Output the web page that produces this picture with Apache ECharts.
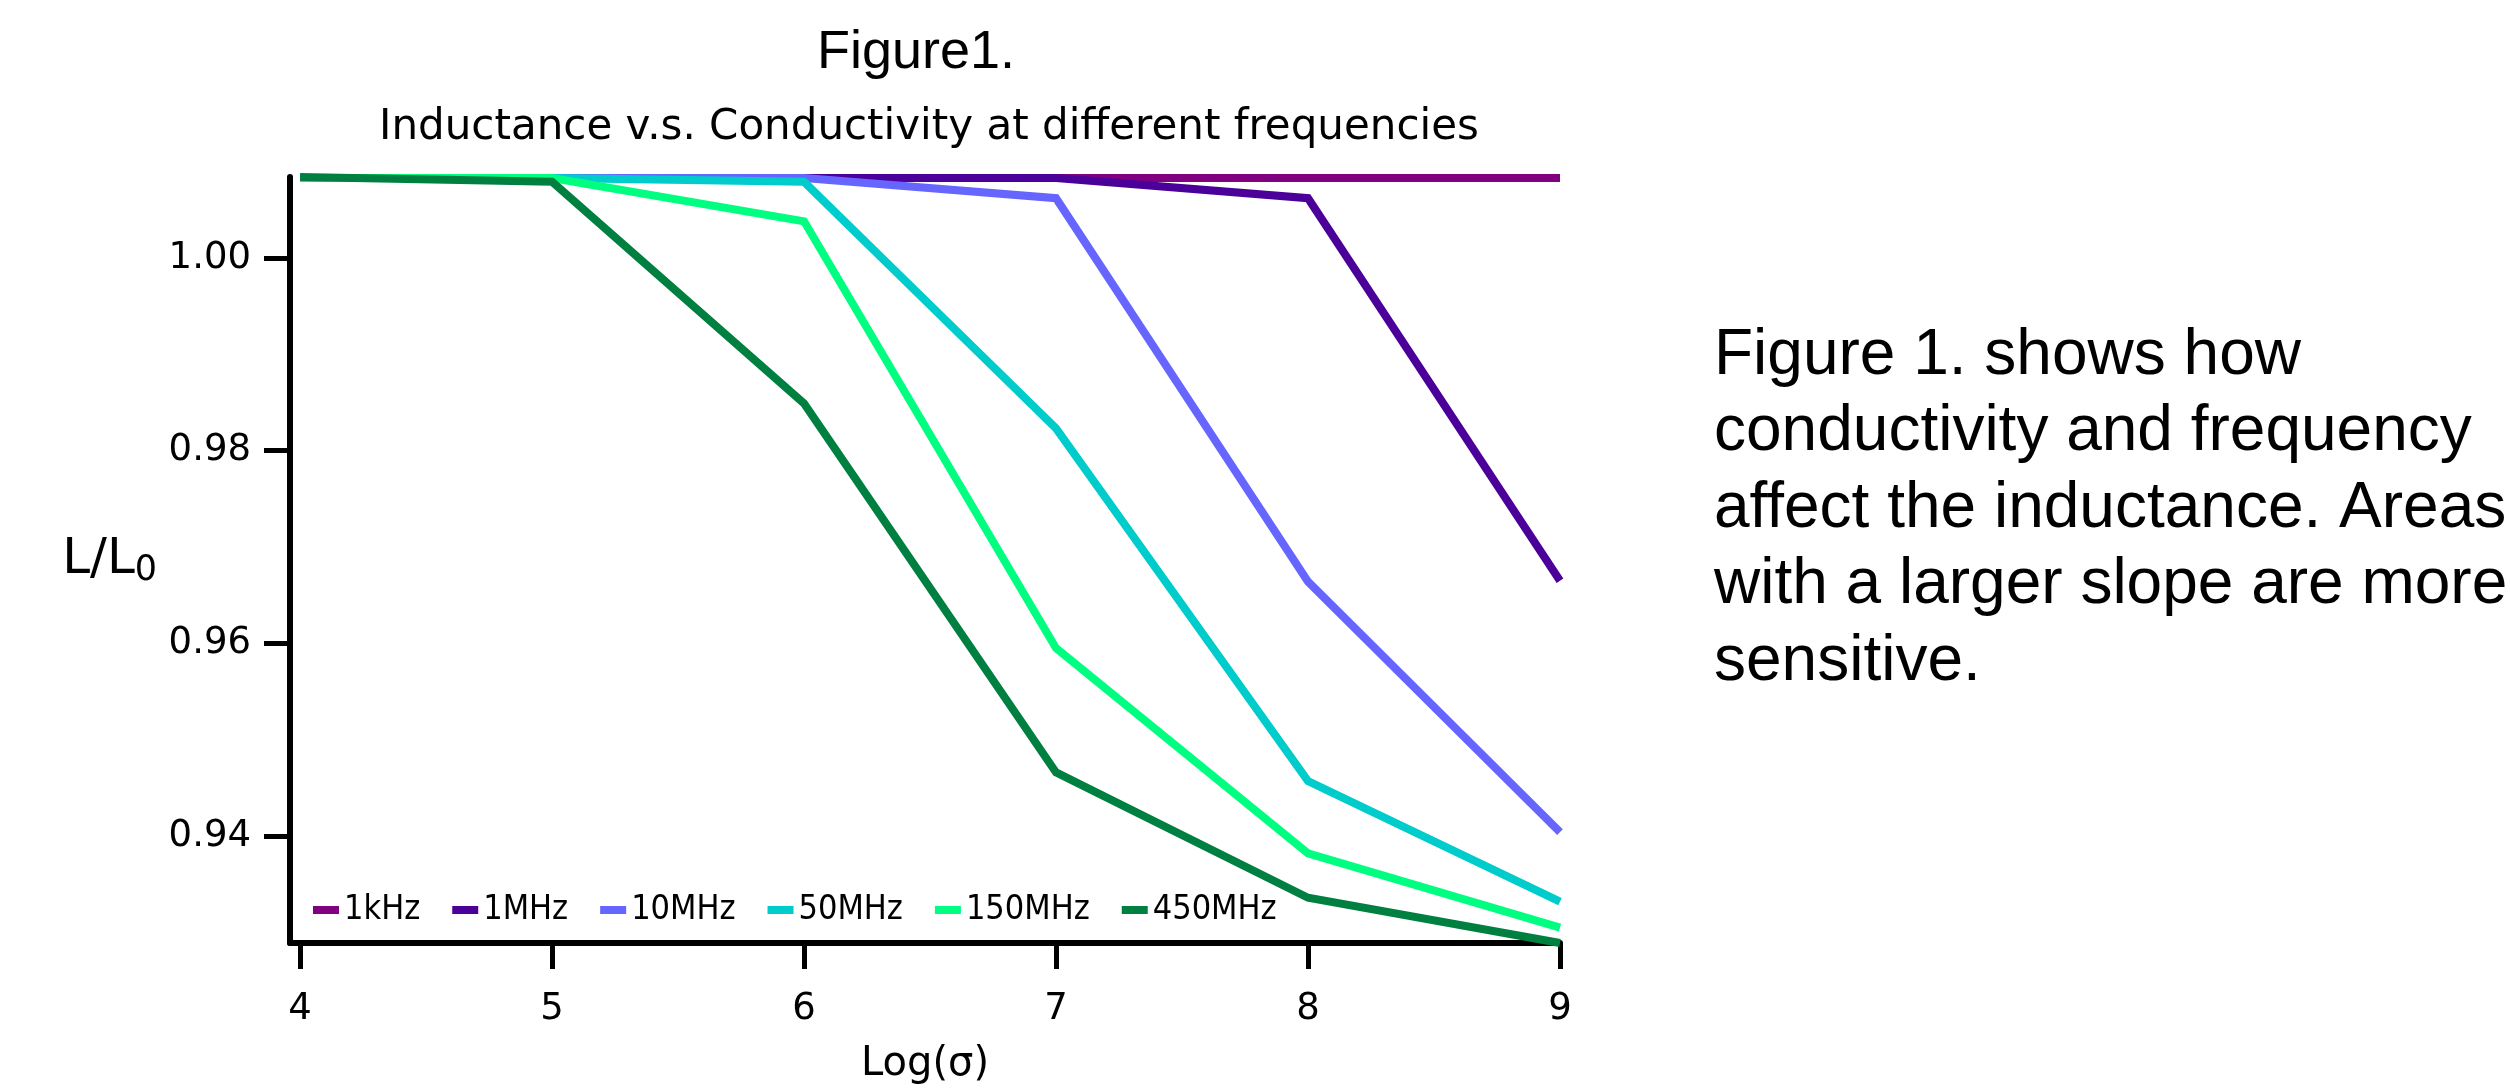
<!DOCTYPE html>
<html>
<head>
<meta charset="utf-8">
<script src="https://cdn.jsdelivr.net/npm/echarts@6/dist/echarts.min.js"></script>
<style>
  html, body { margin: 0; padding: 0; background: #ffffff; }
  #chart { width: 2510px; height: 1090px; }
</style>
</head>
<body>
<div id="chart"></div>
<script>
// ---- data ----
const logSigma = [4, 5, 6, 7, 8, 9];
const seriesNames = ['1kHz', '1MHz', '10MHz', '50MHz', '150MHz', '450MHz'];
const f1kHz   = [1.0083, 1.0083, 1.0083, 1.0083, 1.0083, 1.0083];
const f1MHz   = [1.0083, 1.0083, 1.0083, 1.0083, 1.0062, 0.9665];
const f10MHz  = [1.0083, 1.0083, 1.0083, 1.0062, 0.9664, 0.9404];
const f50MHz  = [1.0083, 1.0083, 1.0079, 0.9823, 0.9457, 0.9332];
const f150MHz = [1.0083, 1.0083, 1.0038, 0.9595, 0.9382, 0.9305];
const f450MHz = [1.0084, 1.0079, 0.9849, 0.9466, 0.9336, 0.9289];
const xTicks = [4, 5, 6, 7, 8, 9];
const yTicks = [0.94, 0.96, 0.98, 1.00];
const seriesColors = ['#800080', '#4B0099', '#6666FF', '#00CCCC', '#00FF80', '#008040'];

const allValues = [f1kHz, f1MHz, f10MHz, f50MHz, f150MHz, f450MHz];

const chart = echarts.init(document.getElementById('chart'), null, { renderer: 'canvas' });

const series = allValues.map((vals, i) => ({
  name: seriesNames[i],
  type: 'line',
  data: logSigma.map((x, j) => [x, vals[j]]),
  symbol: 'none',
  lineStyle: { width: 8, color: seriesColors[i], cap: 'butt', join: 'miter' },
  itemStyle: { color: seriesColors[i] },
  animation: false
}));

const option = {
  backgroundColor: '#ffffff',
  animation: false,
  title: [
    {
      text: 'Figure1.',
      left: 916, top: 26, textAlign: 'center', padding: 0,
      textStyle: { fontFamily: 'Liberation Sans', fontSize: 54, fontWeight: 'normal', color: '#000' }
    },
    {
      text: 'Inductance v.s. Conductivity at different frequencies',
      left: 929, top: 107, textAlign: 'center', padding: 0,
      textStyle: { fontFamily: 'DejaVu Sans', fontSize: 42, fontWeight: 'normal', color: '#000' }
    }
  ],
  grid: { left: 290, right: 950, top: 177, bottom: 146, containLabel: false },
  legend: {
    data: seriesNames,
    left: 313, top: 891, padding: 0,
    icon: 'rect', itemWidth: 26, itemHeight: 8, itemGap: 32,
    orient: 'horizontal',
    textStyle: { fontFamily: '"DejaVu Sans Condensed", "DejaVu Sans"', fontSize: 34, color: '#000', lineHeight: 38 }
  },
  xAxis: {
    type: 'value', min: 3.96, max: 9,
    name: 'Log(σ)', nameLocation: 'middle', nameGap: 102,
    nameTextStyle: { fontFamily: 'DejaVu Sans', fontSize: 40, color: '#000' },
    axisLine: { show: true, onZero: false, lineStyle: { color: '#000', width: 6 } },
    axisTick: { show: true, customValues: xTicks, length: 26, lineStyle: { color: '#000', width: 5 } },
    axisLabel: { customValues: xTicks, margin: 48, fontFamily: 'DejaVu Sans', fontSize: 37, color: '#000' },
    splitLine: { show: false }
  },
  yAxis: {
    type: 'value', min: 'dataMin', max: 'dataMax',
    name: '{a|L/L}{b|0}', nameLocation: 'middle', nameGap: 133, nameRotate: 0,
    nameTextStyle: {
      color: '#000',
      rich: {
        a: { fontFamily: 'DejaVu Sans', fontSize: 50, color: '#000', lineHeight: 56 },
        b: { fontFamily: 'DejaVu Sans', fontSize: 35, color: '#000', lineHeight: 56, verticalAlign: 'bottom' }
      }
    },
    axisLine: { show: true, onZero: false, lineStyle: { color: '#000', width: 6 } },
    axisTick: { show: true, customValues: yTicks, length: 26, lineStyle: { color: '#000', width: 5 } },
    axisLabel: {
      customValues: yTicks, margin: 39, fontFamily: 'DejaVu Sans', fontSize: 37, color: '#000',
      formatter: v => v.toFixed(2)
    },
    splitLine: { show: false }
  },
  graphic: [
    {
      type: 'text', left: 1714, top: 318,
      style: {
        text: 'Figure 1. shows how\nconductivity and frequency\naffect the inductance. Areas\nwith a larger slope are more\nsensitive.',
        font: '64px "Liberation Sans"', fill: '#000', lineHeight: 76.5
      }
    }
  ],
  series: series
};

chart.setOption(option);
</script>
</body>
</html>
